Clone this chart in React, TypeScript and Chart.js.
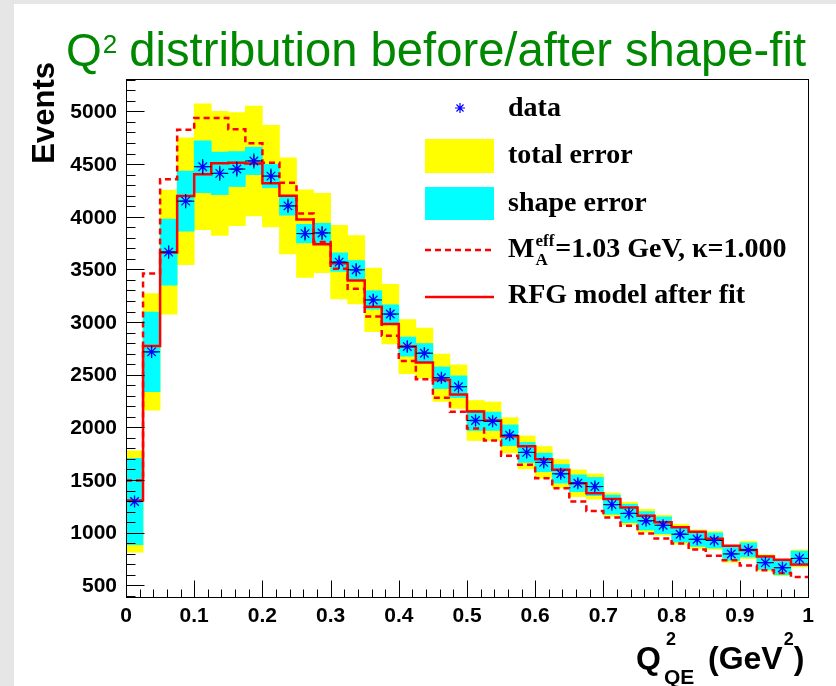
import { useEffect, useRef } from "react";
import { Chart, registerables } from "chart.js";

Chart.register(...registerables);

// Q^2_QE histogram: 40 bins of width 0.025 GeV^2 between 0 and 1
const BIN_WIDTH = 0.025;
const N_BINS = 40;

// measured events per bin
const DATA = [
  1296, 2717, 3664, 4148, 4475, 4412, 4453, 4530, 4386, 4103,
  3840, 3846, 3569, 3496, 3210, 3076, 2767, 2704, 2471, 2386,
  2065, 2058, 1925, 1762, 1667, 1559, 1469, 1438, 1266, 1183,
  1113, 1070, 985, 937, 926, 798, 836, 715, 667, 755,
];

// statistical error bars on the data points
const STAT_ERR = [
  40, 57, 64, 68, 72, 71, 71, 72, 71, 68,
  66, 66, 64, 63, 60, 59, 56, 55, 53, 52,
  48, 48, 47, 45, 44, 42, 41, 41, 38, 37,
  36, 35, 34, 33, 33, 30, 31, 29, 28, 30,
];

// half-height of the shape-only error band
const SHAPE_ERR = [
  411, 378, 313, 286, 247, 202, 166, 130, 111, 88,
  88, 92, 88, 88, 88, 88, 91, 92, 103, 103,
  95, 87, 98, 95, 88, 88, 80, 87, 91, 87,
  87, 80, 75, 67, 72, 62, 67, 64, 67, 70,
];

// half-height of the total (shape + normalisation) error band
const TOTAL_ERR = [
  482, 554, 590, 602, 597, 589, 537, 522, 482, 456,
  416, 377, 350, 325, 302, 283, 257, 238, 225, 207,
  190, 183, 167, 156, 151, 135, 127, 120, 111, 107,
  109, 95, 95, 89, 86, 80, 83, 76, 76, 81,
];

// RFG prediction after the shape fit
const FIT_AFTER = [
  1305, 2772, 3660, 4196, 4403, 4508, 4512, 4506, 4317, 4199,
  3973, 3738, 3559, 3394, 3146, 2981, 2767, 2615, 2449, 2313,
  2150, 2065, 1915, 1820, 1698, 1597, 1469, 1374, 1320, 1240,
  1161, 1100, 1052, 1009, 942, 875, 835, 774, 742, 698,
];

// RFG prediction with M_A^eff = 1.03 GeV, kappa = 1.000
const NOMINAL = [
  1496, 3460, 4355, 4825, 4937, 4937, 4832, 4698, 4513, 4323,
  4030, 3760, 3506, 3315, 3053, 2869, 2631, 2456, 2280, 2147,
  1988, 1874, 1731, 1645, 1517, 1422, 1297, 1206, 1145, 1066,
  992, 945, 897, 840, 780, 738, 687, 643, 617, 579,
];

const X_TICKS = [0, 0.1, 0.2, 0.3, 0.4, 0.5, 0.6, 0.7, 0.8, 0.9, 1];
const X_TICK_LABELS = ["0", "0.1", "0.2", "0.3", "0.4", "0.5", "0.6", "0.7", "0.8", "0.9", "1"];
const Y_TICKS = [500, 1000, 1500, 2000, 2500, 3000, 3500, 4000, 4500, 5000];
const Y_TICK_LABELS = ["500", "1000", "1500", "2000", "2500", "3000", "3500", "4000", "4500", "5000"];
const X_MINOR_STEP = 0.02;
const Y_MINOR_STEP = 100;
const Y_MIN = 389;
const Y_MAX = 5308;

const W = 836;
const H = 686;
const SANS = '"Liberation Sans", Arial, sans-serif';
const SERIF = '"Liberation Serif", "Times New Roman", serif';

const binLow = (i: number) => i * BIN_WIDTH;
const binCenter = (i: number) => (i + 0.5) * BIN_WIDTH;

// histogram outline: each value is held from its bin's low edge to the next edge
function stepPoints(values: number[]) {
  const pts = values.map((v, i) => ({ x: binLow(i), y: v }));
  pts.push({ x: binLow(N_BINS), y: values[values.length - 1] });
  return pts;
}

function errorBarPoints() {
  const pts: { x: number; y: number | null }[] = [];
  DATA.forEach((d, i) => {
    pts.push({ x: binLow(i), y: d }, { x: binLow(i + 1), y: d }, { x: binCenter(i), y: null });
    pts.push({ x: binCenter(i), y: d - STAT_ERR[i] }, { x: binCenter(i), y: d + STAT_ERR[i] }, { x: binCenter(i), y: null });
  });
  return pts;
}

function drawAsterisk(ctx: CanvasRenderingContext2D, x: number, y: number, r: number) {
  ctx.beginPath();
  ctx.moveTo(x - r, y);
  ctx.lineTo(x + r, y);
  ctx.moveTo(x, y - r);
  ctx.lineTo(x, y + r);
  const d = r * Math.SQRT1_2;
  ctx.moveTo(x - d, y - d);
  ctx.lineTo(x + d, y + d);
  ctx.moveTo(x - d, y + d);
  ctx.lineTo(x + d, y - d);
  ctx.stroke();
}

const panelPlugin = {
  id: "rootPanel",
  beforeDraw(chart: any) {
    const ctx: CanvasRenderingContext2D = chart.ctx;
    ctx.save();
    ctx.fillStyle = "#e6e6e6";
    ctx.fillRect(0, 0, W, H);
    ctx.fillStyle = "#ffffff";
    ctx.fillRect(14, 4, W - 14, H - 4);
    ctx.restore();
  },
  afterDraw(chart: any) {
    const ctx: CanvasRenderingContext2D = chart.ctx;
    const a = chart.chartArea;
    const xs = chart.scales.x;
    const ys = chart.scales.y;
    ctx.save();

    // frame
    ctx.strokeStyle = "#000";
    ctx.lineWidth = 1;
    const l = Math.round(a.left) + 0.5;
    const t = Math.round(a.top) + 0.5;
    const r = Math.round(a.right) + 0.5;
    const b = Math.round(a.bottom) + 0.5;
    ctx.strokeRect(l, t, r - l, b - t);

    // ticks, drawn inside the frame
    ctx.beginPath();
    const nx = Math.round(1 / X_MINOR_STEP);
    for (let k = 0; k <= nx; k++) {
      const v = k * X_MINOR_STEP;
      const px = Math.round(xs.getPixelForValue(v)) + 0.5;
      const major = k % 5 === 0;
      ctx.moveTo(px, b);
      ctx.lineTo(px, b - (major ? 17 : 8));
    }
    for (let v = 400; v <= 5300; v += Y_MINOR_STEP) {
      const py = Math.round(ys.getPixelForValue(v)) + 0.5;
      const major = v % 500 === 0;
      ctx.moveTo(l, py);
      ctx.lineTo(l + (major ? 18 : 9), py);
    }
    ctx.stroke();

    // tick labels
    ctx.fillStyle = "#000";
    ctx.font = `bold 21px ${SANS}`;
    ctx.textAlign = "center";
    ctx.textBaseline = "alphabetic";
    X_TICKS.forEach((v, i) => {
      ctx.fillText(X_TICK_LABELS[i], xs.getPixelForValue(v), 622);
    });
    ctx.textAlign = "right";
    ctx.textBaseline = "middle";
    Y_TICKS.forEach((v, i) => {
      ctx.fillText(Y_TICK_LABELS[i], 117, ys.getPixelForValue(v) + 1);
    });

    // y axis title
    ctx.save();
    ctx.translate(54, 62);
    ctx.rotate(-Math.PI / 2);
    ctx.font = `bold 31px ${SANS}`;
    ctx.textAlign = "right";
    ctx.textBaseline = "alphabetic";
    ctx.fillText("Events", 0, 0);
    ctx.restore();

    // x axis title: Q^2_QE (GeV^2)
    ctx.textAlign = "left";
    ctx.textBaseline = "alphabetic";
    ctx.font = `bold 32px ${SANS}`;
    ctx.fillText("Q", 636, 669);
    ctx.font = `bold 18px ${SANS}`;
    ctx.fillText("2", 666, 645);
    ctx.font = `bold 21px ${SANS}`;
    ctx.fillText("QE", 664, 684);
    ctx.font = `bold 32px ${SANS}`;
    ctx.fillText("(GeV", 708, 669);
    const gevW = ctx.measureText("(GeV").width;
    ctx.font = `bold 18px ${SANS}`;
    ctx.fillText("2", 708 + gevW + 1, 645);
    const twoW = ctx.measureText("2").width;
    ctx.font = `bold 32px ${SANS}`;
    ctx.fillText(")", 708 + gevW + twoW + 1, 669);

    // title
    ctx.fillStyle = "rgb(0,136,0)";
    ctx.font = `46px ${SANS}`;
    ctx.textAlign = "left";
    ctx.fillText("Q", 66, 66);
    const qW = ctx.measureText("Q").width;
    ctx.font = `26px ${SANS}`;
    ctx.fillText("2", 66 + qW + 1, 53);
    ctx.font = `47.2px ${SANS}`;
    ctx.textAlign = "right";
    ctx.fillText("distribution before/after shape-fit", 806, 66);

    // legend
    ctx.strokeStyle = "#0000ff";
    ctx.lineWidth = 1.2;
    drawAsterisk(ctx, 460, 108, 5);
    ctx.fillStyle = "#ffff00";
    ctx.fillRect(425, 139, 69, 34);
    ctx.fillStyle = "#00ffff";
    ctx.fillRect(425, 187, 69, 33);
    ctx.strokeStyle = "#ff0000";
    ctx.lineWidth = 2.5;
    ctx.setLineDash([6, 4]);
    ctx.beginPath();
    ctx.moveTo(425, 250);
    ctx.lineTo(494, 250);
    ctx.stroke();
    ctx.setLineDash([]);
    ctx.beginPath();
    ctx.moveTo(425, 297);
    ctx.lineTo(494, 297);
    ctx.stroke();

    ctx.fillStyle = "#000";
    ctx.textAlign = "left";
    ctx.textBaseline = "alphabetic";
    ctx.font = `bold 28px ${SERIF}`;
    ctx.fillText("data", 508, 116);
    ctx.fillText("total error", 508, 163);
    ctx.fillText("shape error", 508, 211);
    ctx.fillText("M", 508, 257);
    const mW = ctx.measureText("M").width;
    ctx.font = `bold 17px ${SERIF}`;
    ctx.fillText("eff", 508 + mW + 1, 246);
    ctx.fillText("A", 508 + mW + 1, 265);
    const effW = ctx.measureText("eff").width;
    ctx.font = `bold 28px ${SERIF}`;
    ctx.fillText("=1.03 GeV, \u03ba=1.000", 508 + mW + effW + 2, 257);
    ctx.fillText("RFG model after fit", 508, 303);

    ctx.restore();
  },
};

export default function App() {
  const canvasRef = useRef<HTMLCanvasElement | null>(null);

  useEffect(() => {
    const canvas = canvasRef.current;
    if (!canvas) return;

    const totalBand = DATA.map((d, i) => ({ x: binCenter(i), y: [d - TOTAL_ERR[i], d + TOTAL_ERR[i]] }));
    const shapeBand = DATA.map((d, i) => ({ x: binCenter(i), y: [d - SHAPE_ERR[i], d + SHAPE_ERR[i]] }));
    const points = DATA.map((d, i) => ({ x: binCenter(i), y: d }));

    const chart = new Chart(canvas, {
      type: "bar",
      data: {
        datasets: [
          {
            type: "scatter",
            label: "data",
            data: points,
            pointStyle: "star",
            pointRadius: 6,
            pointBorderColor: "#0000ff",
            pointBackgroundColor: "#0000ff",
            pointBorderWidth: 1.3,
            order: 0,
          } as any,
          {
            type: "line",
            label: "stat",
            data: errorBarPoints(),
            borderColor: "#000000",
            borderWidth: 1,
            pointRadius: 0,
            spanGaps: false,
            fill: false,
            order: 1,
          } as any,
          {
            type: "line",
            label: "RFG model after fit",
            data: stepPoints(FIT_AFTER),
            stepped: "before",
            borderColor: "#ff0000",
            borderWidth: 2.5,
            pointRadius: 0,
            fill: false,
            order: 2,
          } as any,
          {
            type: "line",
            label: "nominal",
            data: stepPoints(NOMINAL),
            stepped: "before",
            borderColor: "#ff0000",
            borderWidth: 2.5,
            borderDash: [6, 4],
            pointRadius: 0,
            fill: false,
            order: 3,
          } as any,
          {
            type: "bar",
            label: "shape error",
            data: shapeBand,
            backgroundColor: "#00ffff",
            borderWidth: 0,
            grouped: false,
            barPercentage: 1,
            categoryPercentage: 1,
            order: 4,
          } as any,
          {
            type: "bar",
            label: "total error",
            data: totalBand,
            backgroundColor: "#ffff00",
            borderWidth: 0,
            grouped: false,
            barPercentage: 1,
            categoryPercentage: 1,
            order: 5,
          } as any,
        ],
      },
      options: {
        responsive: false,
        maintainAspectRatio: false,
        animation: false,
        devicePixelRatio: 1,
        events: [],
        layout: { padding: { top: 79, right: 28, left: 0, bottom: 0 } },
        plugins: { legend: { display: false }, title: { display: false }, tooltip: { enabled: false } },
        scales: {
          x: {
            type: "linear",
            min: 0,
            max: 1,
            offset: false,
            stacked: false,
            grid: { display: false },
            border: { display: false },
            ticks: { display: false },
            afterFit: (s: any) => {
              s.height = H - 597;
            },
          },
          y: {
            type: "linear",
            min: Y_MIN,
            max: Y_MAX,
            stacked: false,
            grid: { display: false },
            border: { display: false },
            ticks: { display: false },
            afterFit: (s: any) => {
              s.width = 126;
            },
          },
        },
      } as any,
      plugins: [panelPlugin],
    });

    return () => chart.destroy();
  }, []);

  return (
    <div style={{ position: "fixed", left: 0, top: 0, width: W, height: H }}>
      <canvas ref={canvasRef} width={W} height={H} style={{ display: "block", width: W, height: H }} />
    </div>
  );
}
